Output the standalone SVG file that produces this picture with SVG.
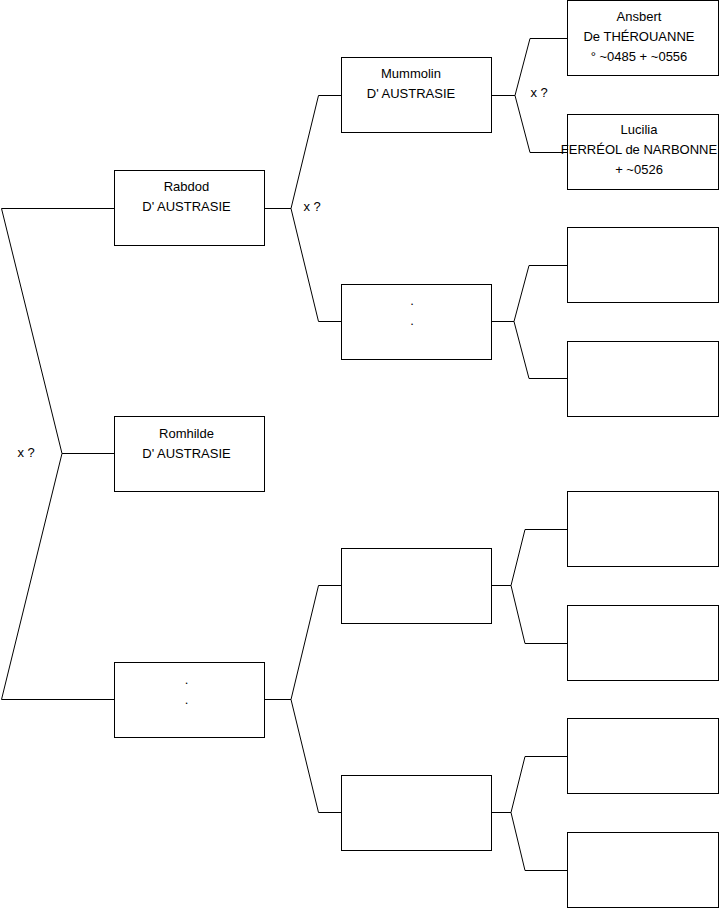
<svg xmlns="http://www.w3.org/2000/svg" width="719" height="908" viewBox="0 0 719 908">
<style>
.box{fill:#fff;stroke:#000;stroke-width:1}
.ln{fill:none;stroke:#000;stroke-width:1}
text{font-family:"Liberation Sans",Arial,sans-serif;font-size:13px;fill:#000}
.c{text-anchor:middle}
</style>
<rect width="719" height="908" fill="#fff"/>
<g id="connectors">
<polyline class="ln" points="114,208.5 1.5,208.5 62,453.5 1.5,699.5 114,699.5"/>
<line class="ln" x1="62" y1="453.5" x2="114" y2="453.5"/>
<polyline class="ln" points="341,95.5 318.5,95.5 291,208.5 318.5,321.5 341,321.5"/>
<line class="ln" x1="265" y1="208.5" x2="291" y2="208.5"/>
<polyline class="ln" points="341,585.5 318.5,585.5 291,699.5 318.5,812.5 341,812.5"/>
<line class="ln" x1="265" y1="699.5" x2="291" y2="699.5"/>
<polyline class="ln" points="567,38.5 530,38.5 515,95.5 530,152.5 567,152.5"/>
<line class="ln" x1="492" y1="95.5" x2="515" y2="95.5"/>
<polyline class="ln" points="567,265.5 529,265.5 514,321.5 529,378.5 567,378.5"/>
<line class="ln" x1="492" y1="321.5" x2="514" y2="321.5"/>
<polyline class="ln" points="567,529.5 525,529.5 511,585.5 525,643.5 567,643.5"/>
<line class="ln" x1="492" y1="585.5" x2="511" y2="585.5"/>
<polyline class="ln" points="567,756.5 525,756.5 511,812.5 525,870.5 567,870.5"/>
<line class="ln" x1="492" y1="812.5" x2="511" y2="812.5"/>
</g>
<g id="labels">
<text x="17.5" y="457">x ?</text>
<text x="303.5" y="211">x ?</text>
<text x="530.5" y="96.5">x ?</text>
</g>
<g id="rabdod"><rect class="box" x="114.5" y="170.5" width="150" height="75"/><text class="c" x="186.5" y="191">Rabdod</text><text class="c" x="186.5" y="211">D' AUSTRASIE</text></g>
<g id="romhilde"><rect class="box" x="114.5" y="416.5" width="150" height="75"/><text class="c" x="186.5" y="438">Romhilde</text><text class="c" x="186.5" y="458">D' AUSTRASIE</text></g>
<g id="unknown1"><rect class="box" x="114.5" y="662.5" width="150" height="75"/><text class="c" x="186.5" y="684">.</text><text class="c" x="186.5" y="704">.</text></g>
<g id="mummolin"><rect class="box" x="341.5" y="57.5" width="150" height="75"/><text class="c" x="411" y="78">Mummolin</text><text class="c" x="411" y="98">D' AUSTRASIE</text></g>
<g id="unknown2"><rect class="box" x="341.5" y="284.5" width="150" height="75"/><text class="c" x="412" y="305">.</text><text class="c" x="412" y="325">.</text></g>
<g id="unknown3"><rect class="box" x="341.5" y="548.5" width="150" height="75"/></g>
<g id="unknown4"><rect class="box" x="341.5" y="775.5" width="150" height="75"/></g>
<g id="ansbert"><rect class="box" x="567.5" y="0.5" width="151" height="75"/><text class="c" x="639" y="21">Ansbert</text><text class="c" x="639" y="41">De THÉROUANNE</text><text class="c" x="639" y="61">° ~0485 + ~0556</text></g>
<g id="lucilia"><rect class="box" x="567.5" y="114.5" width="151" height="75"/><text class="c" x="639" y="134">Lucilia</text><text class="c" x="639" y="154">FERRÉOL de NARBONNE</text><text class="c" x="639" y="174">+ ~0526</text></g>
<g id="g3a"><rect class="box" x="567.5" y="227.5" width="151" height="75"/></g>
<g id="g3b"><rect class="box" x="567.5" y="341.5" width="151" height="75"/></g>
<g id="g3c"><rect class="box" x="567.5" y="491.5" width="151" height="75"/></g>
<g id="g3d"><rect class="box" x="567.5" y="605.5" width="151" height="75"/></g>
<g id="g3e"><rect class="box" x="567.5" y="718.5" width="151" height="75"/></g>
<g id="g3f"><rect class="box" x="567.5" y="832.5" width="151" height="75"/></g>
</svg>
